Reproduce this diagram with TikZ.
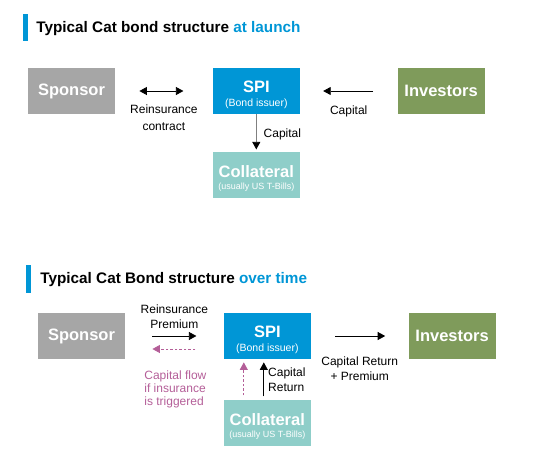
\documentclass[tikz,border=0pt]{standalone}
\usepackage{fontspec}
\setmainfont{Liberation Sans}
\usetikzlibrary{arrows.meta, positioning, calc}
\definecolor{spiblue}{HTML}{0096D6}
\definecolor{sponsorgrey}{HTML}{A6A6A6}
\definecolor{investgreen}{HTML}{7F9B5B}
\definecolor{collteal}{HTML}{8FCEC9}
\definecolor{flowpink}{HTML}{B45E98}
\newcommand{\boxsub}[2]{{\mdseries\fontsize{#1}{11}\selectfont #2}}
\newcommand{\boxtop}[1]{\rule{0pt}{#1}}

\begin{document}
\begin{tikzpicture}[x=1pt, y=-1pt, line width=0.8pt,
  >={Triangle[length=7.5pt,width=8pt]},
  box/.style={minimum width=87pt, minimum height=46pt, inner sep=0pt, text=white,
    align=center, font=\bfseries\fontsize{16.5}{17}\selectfont},
  lbl/.style={font=\fontsize{12}{15}\selectfont, align=center, inner sep=0pt},
  ttl/.style={font=\bfseries\fontsize{15.3}{18}\selectfont, anchor=base west, inner sep=0pt},
  flow/.style={flowpink, dash pattern=on 2.5pt off 2pt}]

\useasboundingbox (0,0) rectangle (547,456);

% Titolo: at launch
\fill[spiblue] (23,14) rectangle (27.5,41);
\node[ttl] (title1) at (36,32) {Typical Cat bond structure \textcolor{spiblue}{at launch}};

% Blocchi
\node[box, fill=sponsorgrey] (sponsor1) at (71.5,91) {Sponsor};
\node[box, fill=spiblue, right=97pt of sponsor1] (spi1) {\boxtop{20pt}SPI\\[-3pt]\boxsub{10.5}{(Bond issuer)}};
\node[box, fill=investgreen, right=97pt of spi1] (investors1) {Investors};
\node[box, fill=collteal, below=37pt of spi1] (coll1) {\boxtop{19pt}Collateral\\[-5pt]\boxsub{9}{(usually US T-Bills)}};

% Frecce
\draw[<->, shorten <=24pt, shorten >=29pt] (sponsor1) --
  node[lbl, below=13pt] (reins1) {Reinsurance\\[2pt]contract} (spi1);
\draw[->, shorten <=24pt, shorten >=23pt] (investors1) --
  node[lbl, below=14pt] (cap1) {Capital} (spi1);
\draw[-{Triangle[length=7.5pt,width=8pt,black]}, gray, shorten >=2pt] (spi1) --
  node[lbl, right=7pt, text=black, pos=0.55] (cap2) {Capital} (coll1);

% Titolo: over time
\fill[spiblue] (26,265) rectangle (30.5,293);
\node[ttl] (title2) at (40,283) {Typical Cat Bond structure \textcolor{spiblue}{over time}};

% Blocchi
\node[box, fill=sponsorgrey] (sponsor2) at (81.5,336) {Sponsor};
\node[box, fill=spiblue, right=98pt of sponsor2] (spi2) {\boxtop{20pt}SPI\\[-3pt]\boxsub{10.5}{(Bond issuer)}};
\node[box, fill=investgreen, right=97pt of spi2] (investors2) {Investors};
\node[box, fill=collteal, below=40pt of spi2] (coll2) {\boxtop{19pt}Collateral\\[-5pt]\boxsub{9}{(usually US T-Bills)}};

% Frecce
\draw[->, shorten <=27pt, shorten >=27pt] (sponsor2) --
  node[lbl, above=7pt] (prem) {Reinsurance\\Premium} (spi2);
\draw[->, flow, shorten <=28pt, shorten >=27pt] ([yshift=-13pt]spi2.west) -- ([yshift=-13pt]sponsor2.east);
\node[lbl, flowpink, align=left, anchor=north west, font=\fontsize{12}{13}\selectfont] (trig) at (144,370)
  {Capital flow\\if insurance\\is triggered};
\draw[->, flow, shorten <=4pt, shorten >=3pt] ([xshift=-23.5pt]coll2.north) -- ([xshift=-23.5pt]spi2.south);
\draw[->, shorten <=3pt, shorten >=3pt] ([xshift=-3.5pt]coll2.north) --
  node[lbl, align=left, right=4pt] (capret) {Capital\\Return} ([xshift=-3.5pt]spi2.south);
\draw[->, shorten <=24pt, shorten >=23pt] (spi2) --
  node[lbl, below=20pt] (capprem) {Capital Return\\+ Premium} (investors2);

\end{tikzpicture}
\end{document}
